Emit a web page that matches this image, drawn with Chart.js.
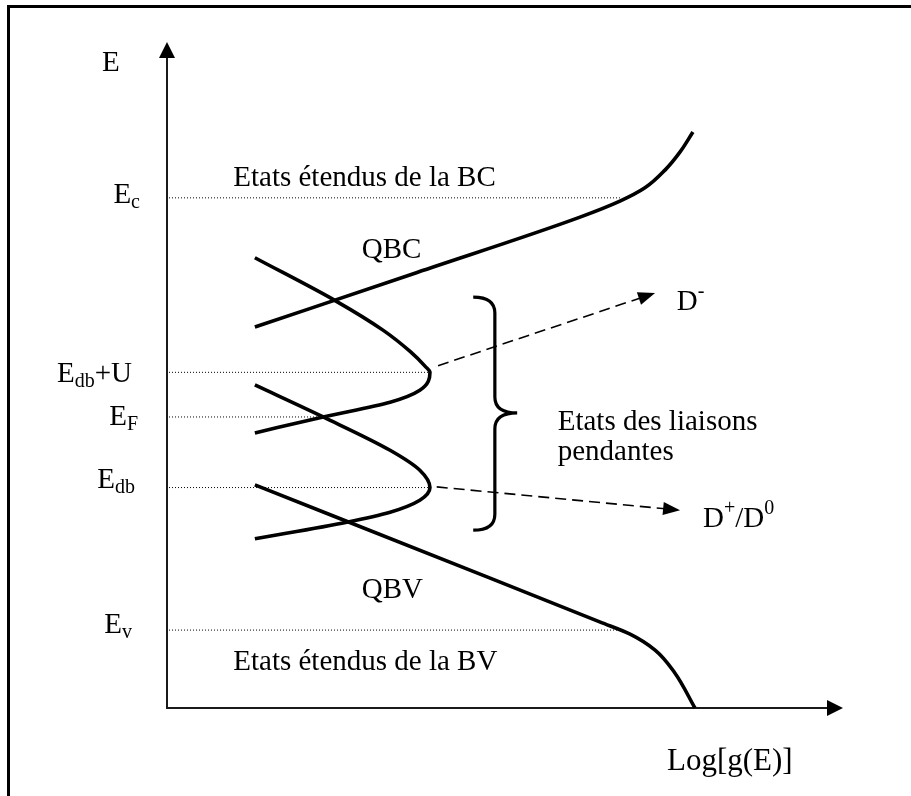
<!DOCTYPE html>
<html>
<head>
<meta charset="utf-8">
<script src="https://cdn.jsdelivr.net/npm/chart.js@4/dist/chart.umd.min.js"></script>
<style>
  html, body { margin: 0; padding: 0; background: #fff; }
  canvas { display: block; }
</style>
</head>
<body>
<canvas id="diagramme" width="911" height="796"></canvas>
<script>
// Niveaux d'énergie (axe E de 0 à 100) et fin des pointillés sur l'axe Log[g(E)]
const niveaux = [76.6, 50.4, 43.7, 33.1, 11.7];
const niveauxNoms = [
    [["E"], ["c", "sub"]],
    [["E"], ["db", "sub"], ["+U"]],
    [["E"], ["F", "sub"]],
    [["E"], ["db", "sub"]],
    [["E"], ["v", "sub"]]
];
const niveauxFin = [67.0, 38.9, 23.1, 38.9, 67.5];

// Queue de la bande de conduction (QBC) puis états étendus
const qbcX = [13.0, 37.0, 61.1, 67.0, 70.7, 73.7, 75.9, 77.8];
const qbcY = [57.2, 65.4, 73.7, 76.1, 78.1, 80.8, 83.5, 86.5];

// Queue de la bande de valence (QBV) puis états étendus
const qbvX = [13.0, 47.8, 64.1, 68.5, 72.2, 75.1, 78.1];
const qbvY = [33.5, 19.5, 12.9, 11.1, 8.7, 5.3, 0];

// Liaisons pendantes : bande D- centrée sur Edb+U, bande D+/D0 centrée sur Edb
const dMoinsX = [13.0, 25.0, 32.0, 36.0, 38.2, 38.9, 37.4, 33.0, 23.1, 13.0];
const dMoinsY = [67.6, 61.1, 56.7, 53.5, 51.3, 50.4, 47.7, 45.9, 43.7, 41.3];
const dPlusX = [13.0, 23.1, 33.0, 37.4, 38.9, 37.4, 33.0, 26.6, 13.0];
const dPlusY = [48.5, 43.7, 38.7, 35.7, 33.1, 31.2, 29.4, 27.9, 25.4];

// Flèches en tirets vers D- et D+/D0
const flechesX0 = [40.1, 39.9];
const flechesY0 = [51.4, 33.2];
const flechesX1 = [72.2, 75.9];
const flechesY1 = [62.3, 29.7];

// Accolade des états des liaisons pendantes
const accolade = { x: 48.5, crochet: 45.3, pointe: 51.8, haut: 61.7, milieu: 44.3, bas: 26.7 };

const POLICE = '"Liberation Serif", "Times New Roman", serif';
const TAILLE = 29;
const TAILLE_PETITE = 20;

const points = (xs, ys) => xs.map((x, i) => ({ x: x, y: ys[i] }));

// Textes dans le diagramme (coordonnées des axes)
const textes = [
    { morceaux: [["Etats étendus de la BC"]], x: 9.8, y: 78.4 },
    { morceaux: [["QBC"]], x: 28.8, y: 67.6 },
    { morceaux: [["QBV"]], x: 28.8, y: 16.5 },
    { morceaux: [["Etats étendus de la BV"]], x: 9.8, y: 5.7 },
    { morceaux: [["Etats des liaisons"]], x: 57.8, y: 41.7 },
    { morceaux: [["pendantes"]], x: 57.8, y: 37.2 },
    { morceaux: [["D"], ["-", "sup"]], x: 75.4, y: 59.8 },
    { morceaux: [["D"], ["+", "sup"], ["/D"], ["0", "sup"]], x: 79.3, y: 27.2 }
];

// décalages des noms de niveaux : bord droit avant l'axe, ligne de base sous le niveau
const nomsDecalage = [
    { gauche: 27, bas: 5 },
    { gauche: 35, bas: 10 },
    { gauche: 29, bas: 8 },
    { gauche: 32, bas: 0 },
    { gauche: 35, bas: 3 }
];

function largeurRiche(ctx, morceaux) {
    let w = 0;
    morceaux.forEach(m => {
        ctx.font = (m[1] ? TAILLE_PETITE : TAILLE) + "px " + POLICE;
        w += ctx.measureText(m[0]).width;
    });
    return w;
}

function ecrireRiche(ctx, morceaux, x, y, taille) {
    ctx.textBaseline = "alphabetic";
    ctx.textAlign = "left";
    ctx.fillStyle = "#000";
    let cx = x;
    morceaux.forEach(m => {
        const mode = m[1];
        ctx.font = (mode ? TAILLE_PETITE : (taille || TAILLE)) + "px " + POLICE;
        let dy = 0;
        if (mode === "sub") dy = 5;
        if (mode === "sup") dy = -13;
        ctx.fillText(m[0], cx, y + dy);
        cx += ctx.measureText(m[0]).width;
    });
}

function pointeFleche(ctx, xa, ya, xb, yb, longueur, demi) {
    const a = Math.atan2(yb - ya, xb - xa);
    ctx.save();
    ctx.translate(xb, yb);
    ctx.rotate(a);
    ctx.beginPath();
    ctx.moveTo(0, 0);
    ctx.lineTo(-longueur, -demi);
    ctx.lineTo(-longueur, demi);
    ctx.closePath();
    ctx.fillStyle = "#000";
    ctx.fill();
    ctx.restore();
}

const cadreEtAxes = {
    id: "cadreEtAxes",
    beforeDraw(chart) {
        const ctx = chart.ctx;
        const a = chart.chartArea;
        ctx.save();
        ctx.fillStyle = "#fff";
        ctx.fillRect(0, 0, chart.width, chart.height);

        // cadre (gauche et haut)
        ctx.strokeStyle = "#000";
        ctx.lineWidth = 3;
        ctx.beginPath();
        ctx.moveTo(8.5, chart.height);
        ctx.lineTo(8.5, 6.5);
        ctx.lineTo(chart.width, 6.5);
        ctx.stroke();

        // axes
        ctx.strokeStyle = "#1a1a1a";
        ctx.lineWidth = 2;
        ctx.beginPath();
        ctx.moveTo(a.left, a.top + 14);
        ctx.lineTo(a.left, a.bottom);
        ctx.lineTo(a.right - 14, a.bottom);
        ctx.stroke();
        pointeFleche(ctx, a.left, a.bottom, a.left, a.top, 16, 8);
        pointeFleche(ctx, a.left, a.bottom, a.right, a.bottom, 16, 8);

        // titres des axes
        ecrireRiche(ctx, [["E"]], a.left - 65, a.top + 29);
        ecrireRiche(ctx, [["Log[g(E)]"]], a.right - 176, a.bottom + 62, 31);
        ctx.restore();
    },
    afterDatasetsDraw(chart) {
        const ctx = chart.ctx;
        const sx = chart.scales.x;
        const sy = chart.scales.y;
        const a = chart.chartArea;
        ctx.save();

        // pointes des flèches en tirets
        flechesX1.forEach((x, i) => {
            pointeFleche(ctx,
                sx.getPixelForValue(flechesX0[i]), sy.getPixelForValue(flechesY0[i]),
                sx.getPixelForValue(x), sy.getPixelForValue(flechesY1[i]), 17, 6.5);
        });

        // accolade
        const xv = sx.getPixelForValue(accolade.x);
        const xc = sx.getPixelForValue(accolade.crochet);
        const xp = sx.getPixelForValue(accolade.pointe);
        const yh = sy.getPixelForValue(accolade.haut);
        const ym = sy.getPixelForValue(accolade.milieu);
        const yb = sy.getPixelForValue(accolade.bas);
        const r = 16;
        ctx.strokeStyle = "#000";
        ctx.lineWidth = 3.2;
        ctx.beginPath();
        ctx.moveTo(xc, yh);
        ctx.quadraticCurveTo(xv, yh, xv, yh + r);
        ctx.lineTo(xv, ym - r);
        ctx.quadraticCurveTo(xv, ym, xp, ym);
        ctx.quadraticCurveTo(xv, ym, xv, ym + r);
        ctx.lineTo(xv, yb - r);
        ctx.quadraticCurveTo(xv, yb, xc, yb);
        ctx.stroke();

        // noms des niveaux à gauche de l'axe
        niveauxNoms.forEach((morceaux, i) => {
            const w = largeurRiche(ctx, morceaux);
            const y = sy.getPixelForValue(niveaux[i]) + nomsDecalage[i].bas;
            ecrireRiche(ctx, morceaux, a.left - nomsDecalage[i].gauche - w, y);
        });

        // textes du diagramme
        textes.forEach(t => {
            ecrireRiche(ctx, t.morceaux, sx.getPixelForValue(t.x), sy.getPixelForValue(t.y));
        });
        ctx.restore();
    }
};

// courbes lissées le long de l'axe E (monotones en E)
const courbe = data => ({
    data: data,
    showLine: true,
    borderColor: "#000",
    borderWidth: 3.6,
    pointRadius: 0,
    clip: false,
    cubicInterpolationMode: "monotone"
});

const datasets = [];

// pointillés des niveaux
niveaux.forEach((e, i) => {
    datasets.push({
        data: [{ x: 0.3, y: e }, { x: niveauxFin[i], y: e }],
        showLine: true,
        borderColor: "#000",
        borderWidth: 1,
        borderDash: [1, 2],
        pointRadius: 0,
        clip: false
    });
});

datasets.push(courbe(points(qbcX, qbcY)));
datasets.push(courbe(points(qbvX, qbvY)));
datasets.push(courbe(points(dMoinsX, dMoinsY)));
datasets.push(courbe(points(dPlusX, dPlusY)));

// flèches en tirets (le trait s'arrête sous la pointe)
flechesX0.forEach((x, i) => {
    const k = 1 - 1.5 / (flechesX1[i] - x);
    datasets.push({
        data: [
            { x: x, y: flechesY0[i] },
            { x: x + (flechesX1[i] - x) * k, y: flechesY0[i] + (flechesY1[i] - flechesY0[i]) * k }
        ],
        showLine: true,
        borderColor: "#000",
        borderWidth: 1.6,
        borderDash: [11, 6],
        pointRadius: 0,
        clip: false
    });
});

new Chart(document.getElementById("diagramme"), {
    type: "scatter",
    data: { datasets },
    options: {
        indexAxis: "y",
        responsive: false,
        animation: false,
        devicePixelRatio: 1,
        layout: { padding: { left: 167, right: 68, top: 42, bottom: 88 } },
        scales: {
            x: { type: "linear", min: 0, max: 100, display: false },
            y: { type: "linear", min: 0, max: 100, display: false }
        },
        plugins: {
            legend: { display: false },
            tooltip: { enabled: false }
        }
    },
    plugins: [cadreEtAxes]
});
</script>
</body>
</html>
